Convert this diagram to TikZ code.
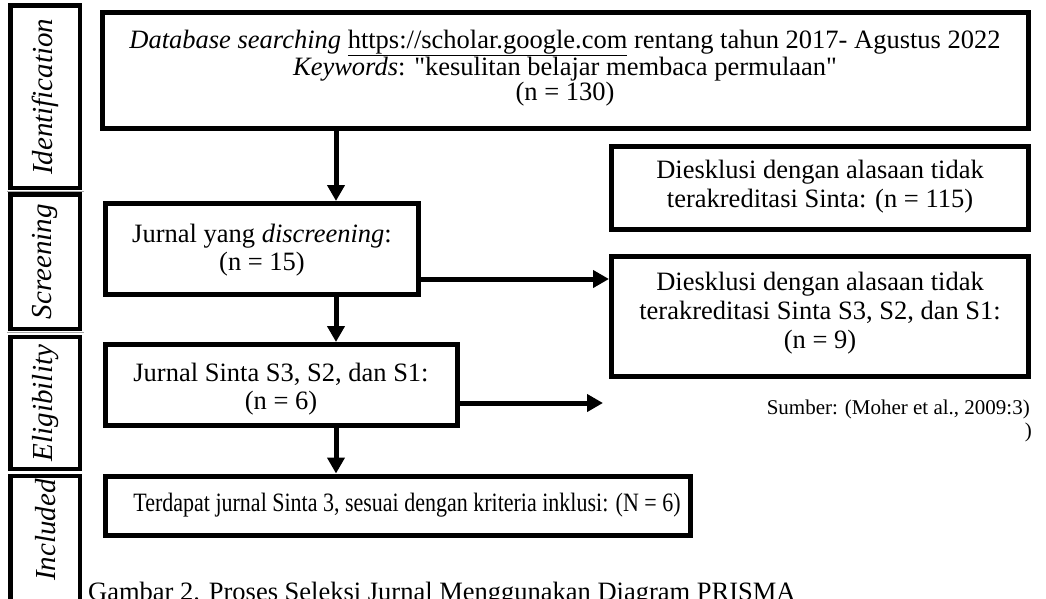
\documentclass[tikz,border=0pt]{standalone}
\usepackage{fontspec}
\setmainfont{Liberation Serif}
\usetikzlibrary{arrows.meta}
\newcommand{\sq}{\XeTeXglyph\XeTeXcharglyph"22\relax}
\begin{document}
\begin{tikzpicture}[x=1pt,y=-1pt,
  box/.style={draw=black, line width=5pt, rectangle, inner sep=0pt},
  phase/.style={draw=black, line width=4.5pt, rectangle, inner sep=0pt, minimum width=69.5pt},
  plabel/.style={rotate=90, inner sep=0pt, font=\fontsize{29}{30}\selectfont\itshape},
  txt/.style={align=center, inner sep=0pt, font=\fontsize{26.5}{29}\selectfont},
  arr/.style={line width=5pt, -{Triangle[length=16pt,width=17pt]}},
  seam/.style={draw=black!35, line width=0.8pt}]
\useasboundingbox (0,0) rectangle (1046,598);
% phase column
\node[phase, minimum height=182.5pt] (pI) at (45.25,96.75) {};
\node[phase, minimum height=134.5pt] (pS) at (45.25,261.75) {};
\node[phase, minimum height=132pt] (pE) at (45.25,403) {};
\node[phase, minimum height=174pt] (pN) at (45.25,563) {};
\coordinate (s1) at (7,191.5);
\coordinate (s2) at (7,332.5);
\draw[seam] (s1) -- ++(77,0);
\draw[seam] (s2) -- ++(77,0);
\node[plabel] (lI) at (pI.center) {Identification};
\node[plabel] (lS) at (pS.center) {Screening};
\node[plabel] (lE) at (pE.center) {Eligibility};
\node[plabel] (lN) at (45.25,530) {Included};
% boxes
\node[box, minimum width=925.5pt, minimum height=116pt] (ident) at (565.25,70.5) {};
\node[box, minimum width=416.5pt, minimum height=83pt] (ex1) at (819.75,188) {};
\node[box, minimum width=313pt, minimum height=91pt] (scr) at (261.5,249) {};
\node[box, minimum width=416.5pt, minimum height=120pt] (ex2) at (819.75,316) {};
\node[box, minimum width=352pt, minimum height=80.5pt] (elig) at (281,384.75) {};
\node[box, minimum width=585pt, minimum height=59pt] (incl) at (397.5,505.5) {};
% texts
\node[txt, font=\fontsize{26.5}{24}\selectfont] (tI) at (565,68) {\textit{Database searching} \underline{https://scholar.google.com} rentang tahun 2017- Agustus 2022\\ \textit{Keywords}: \sq kesulitan belajar membaca permulaan\sq\\ (n = 130)};
\node[txt] (tX1) at (820,187) {Diesklusi dengan alasaan tidak\\ terakreditasi Sinta: (n = 115)};
\node[txt, font=\fontsize{26.5}{28}\selectfont] (tS) at (262,250) {Jurnal yang \textit{discreening}:\\ (n = 15)};
\node[txt] (tX2) at (820,313) {Diesklusi dengan alasaan tidak\\ terakreditasi Sinta S3, S2, dan S1:\\ (n = 9)};
\node[txt, font=\fontsize{26.5}{28}\selectfont] (tE) at (281,389) {Jurnal Sinta S3, S2, dan S1:\\ (n = 6)};
\node[txt] (tN) at (407,505) {\scalebox{0.83}[1]{Terdapat jurnal Sinta 3, sesuai dengan kriteria inklusi: (N = 6)}};
\node[anchor=east, inner sep=0pt, font=\fontsize{21}{22}\selectfont] (src) at (1030,409) {Sumber: (Moher et al., 2009:3)};
\node[anchor=east, inner sep=0pt, font=\fontsize{21}{22}\selectfont] (par) at (1032,432) {)};
\node[anchor=base west, inner sep=0pt, font=\fontsize{26.5}{28}\selectfont] (cap) at (88,600) {Gambar 2. Proses Seleksi Jurnal Menggunakan Diagram PRISMA};
% connectors
\coordinate (ax1) at (336,0);
\coordinate (ay2) at (0,279);
\coordinate (ay4) at (0,403);
\coordinate (tip4) at (603,403);
\draw[arr] (ident.south -| ax1) -- (scr.north -| ax1);
\draw[arr] (scr.east |- ay2) -- (ex2.west |- ay2);
\draw[arr] (scr.south -| ax1) -- (elig.north -| ax1);
\draw[arr] (elig.east |- ay4) -- (tip4);
\draw[arr] (elig.south -| ax1) -- (incl.north -| ax1);
\end{tikzpicture}
\end{document}
